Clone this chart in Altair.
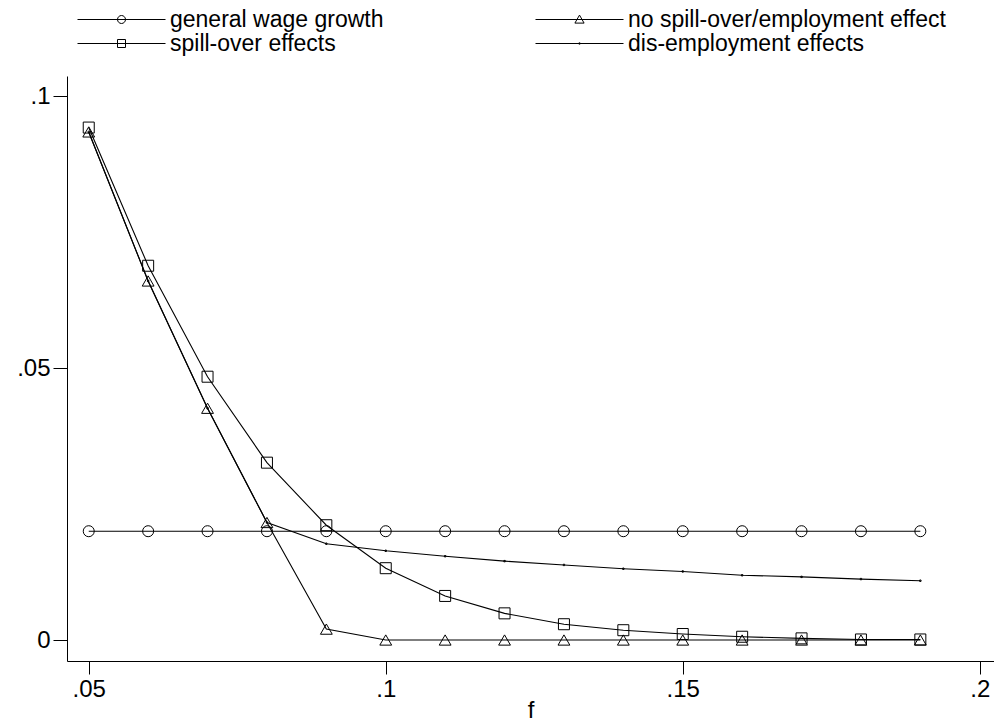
import altair as alt
import pandas as pd

f_values = [0.05, 0.06, 0.07, 0.08, 0.09, 0.10, 0.11, 0.12, 0.13, 0.14, 0.15, 0.16, 0.17, 0.18, 0.19]
general_wage_growth = [0.02, 0.02, 0.02, 0.02, 0.02, 0.02, 0.02, 0.02, 0.02, 0.02, 0.02, 0.02, 0.02, 0.02, 0.02]
no_spill_over = [0.0934, 0.0660, 0.0426, 0.0216, 0.0020, 0.0, 0.0, 0.0, 0.0, 0.0, 0.0, 0.0, 0.0, 0.0, 0.0]
spill_over = [0.0942, 0.0688, 0.0484, 0.0326, 0.0211, 0.0132, 0.0081, 0.0049, 0.0029, 0.0018, 0.0011, 0.0006, 0.0003, 0.0001, 0.0001]
dis_employment = [0.0934, 0.0660, 0.0426, 0.0216, 0.0177, 0.0164, 0.0154, 0.0145, 0.0138, 0.0131, 0.0126, 0.0119, 0.0116, 0.0112, 0.0109]

series_names = ["general wage growth", "no spill-over/employment effect",
                "spill-over effects", "dis-employment effects"]
series_values = [general_wage_growth, no_spill_over, spill_over, dis_employment]
marker_shapes = ["circle", "triangle-up", "square", "square"]
marker_sizes = [121, 140, 121, 2]

x_ticks = [0.05, 0.1, 0.15, 0.2]
x_tick_labels = [".05", ".1", ".15", ".2"]
y_ticks = [0, 0.05, 0.1]
y_tick_labels = ["0", ".05", ".1"]

rows = []
for name, vals, shp, sz in zip(series_names, series_values, marker_shapes, marker_sizes):
    for fv, v in zip(f_values, vals):
        rows.append({"f": fv, "value": v, "series": name, "mk": shp, "sz": sz})
df = pd.DataFrame(rows)


def label_expr(vals, labels):
    expr = "''"
    for v, l in reversed(list(zip(vals, labels))):
        expr = f"datum.value == {v} ? '{l}' : ({expr})"
    return expr


FONT = "Liberation Sans"
FS = 24

x_enc = alt.X("f:Q", title="f",
              scale=alt.Scale(domain=[0.04634, 0.2024], nice=False, zero=False),
              axis=alt.Axis(values=x_ticks, labelExpr=label_expr(x_ticks, x_tick_labels),
                            tickSize=13, labelPadding=3, titlePadding=-3, labelFlush=False))
y_enc = alt.Y("value:Q", title=None,
              scale=alt.Scale(domain=[-0.00386, 0.10368], nice=False, zero=False),
              axis=alt.Axis(values=y_ticks, labelExpr=label_expr(y_ticks, y_tick_labels),
                            tickSize=14, labelPadding=3))

base = alt.Chart(df)

lines = base.mark_line(color="black", strokeWidth=1.1).encode(
    x=x_enc, y=y_enc, detail="series:N")

points = base.mark_point(filled=False, color="black", strokeWidth=1, opacity=1).encode(
    x=x_enc, y=y_enc,
    shape=alt.Shape("mk:N", scale=None),
    size=alt.Size("sz:Q", scale=None))

L = 11
path_circle = f"M-{L},0H{L}M1,0A1,1,0,1,1,-1,0A1,1,0,1,1,1,0Z"
path_triangle = f"M-{L},0H{L}M0,-1.1L1.15,0.9L-1.15,0.9Z"
path_square = f"M-{L},0H{L}M-1,-1H1V1H-1Z"
path_dot = f"M-{L},0H{L}M-0.15,-0.15H0.15V0.15H-0.15Z"

legend_cols = [
    ([series_names[0], series_names[2]], [path_circle, path_square], 43),
    ([series_names[1], series_names[3]], [path_triangle, path_dot], 501),
]

legend_layers = []
for names, paths, lx in legend_cols:
    legend_layers.append(
        alt.Chart(df[df["series"].isin(names)]).mark_point(opacity=0, color="black").encode(
            x=x_enc, y=y_enc,
            shape=alt.Shape("series:N",
                            scale=alt.Scale(domain=names, range=paths),
                            legend=alt.Legend(title=None, orient="none", legendX=lx, legendY=-68,
                                              symbolSize=64, symbolOpacity=1,
                                              symbolStrokeColor="black", symbolFillColor="transparent",
                                              symbolStrokeWidth=1, labelOffset=37,
                                              labelFont=FONT, labelFontSize=23, labelColor="black",
                                              rowPadding=-4, padding=0, labelLimit=600)))
    )

chart = alt.layer(lines, points, *legend_layers).resolve_scale(shape="independent").properties(
    width=927, height=585,
    autosize=alt.AutoSizeParams(type="none"),
    padding={"left": 59, "top": 68, "right": 0, "bottom": 62},
).configure(font=FONT).configure_view(stroke=None).configure_axis(
    grid=False, domainColor="black", tickColor="black", labelColor="black",
    titleColor="black", labelFont=FONT, titleFont=FONT, labelFontSize=FS,
    titleFontSize=FS, titleFontWeight="normal", domainWidth=1, tickWidth=1,
)

chart.save("out.html", embed_options={"renderer": "svg", "actions": False})
